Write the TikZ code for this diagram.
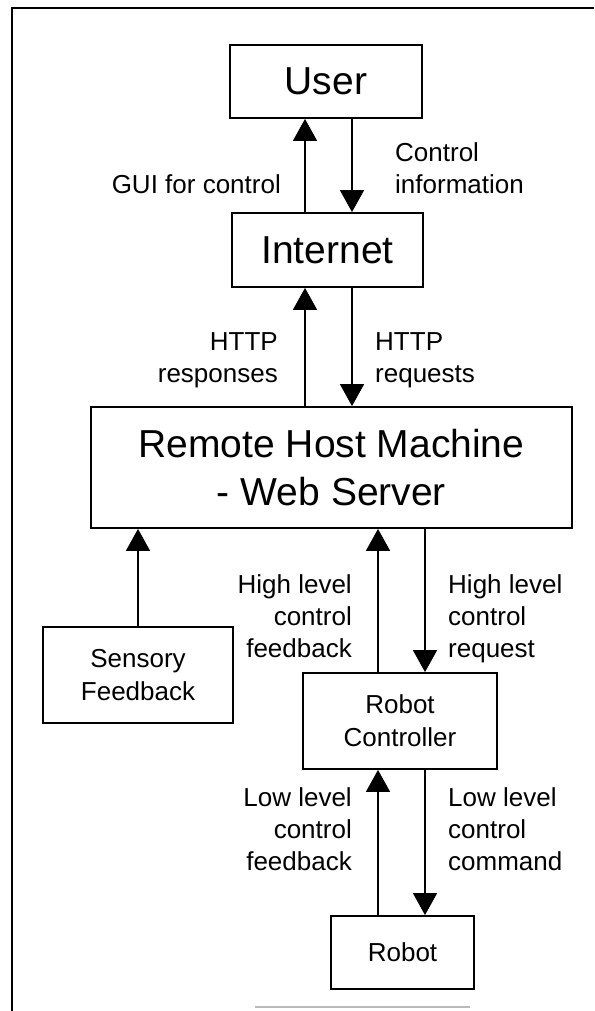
\documentclass[tikz,border=0pt]{standalone}
\usepackage{fontspec}
\setmainfont{Liberation Sans}
\usetikzlibrary{arrows.meta}
\begin{document}
\begin{tikzpicture}[x=1pt,y=-1pt,
  boxstyle/.style={draw, line width=1.8pt, inner sep=0pt, align=center},
  bigtext/.style={font=\fontsize{39}{48}\selectfont},
  smalltext/.style={font=\fontsize{26}{33}\selectfont},
  arr/.style={line width=1.5pt, -{Triangle[length=22pt,width=24pt]}},
  lbl/.style={inner sep=0pt, font=\fontsize{26}{32}\selectfont}
]
\useasboundingbox (0,0) rectangle (594,1011);
% frame
\draw[line width=2pt] (12,1011) -- (12,8) -- (594,8);
\draw[line width=1.2pt, gray!55] (255,1007) -- (470,1007);

% boxes
\node[boxstyle, bigtext, minimum width=192pt, minimum height=73pt] (user) at (326,81.5) {User};
\node[boxstyle, bigtext, minimum width=191pt, minimum height=74pt] (inet) at (327.5,250) {Internet};
\node[boxstyle, bigtext, minimum width=481pt, minimum height=121pt] (host) at (331.5,467.5) {Remote Host Machine\\- Web Server};
\node[boxstyle, smalltext, minimum width=190pt, minimum height=96pt] (sens) at (138,675) {Sensory\\Feedback};
\node[boxstyle, smalltext, minimum width=194pt, minimum height=96pt] (rc) at (400,721) {Robot\\Controller};
\node[boxstyle, smalltext, minimum width=143pt, minimum height=73pt] (robot) at (402.5,952.5) {Robot};

% connectors
\draw[arr] (inet.north -| 305,0) -- (user.south -| 305,0);
\draw[arr] (user.south -| 352,0) -- (inet.north -| 352,0);
\draw[arr] (host.north -| 305,0) -- (inet.south -| 305,0);
\draw[arr] (inet.south -| 352,0) -- (host.north -| 352,0);
\draw[arr] (sens.north) -- (sens.north |- host.south);
\draw[arr] (rc.north -| 378,0) -- (host.south -| 378,0);
\draw[arr] (host.south -| 425,0) -- (rc.north -| 425,0);
\draw[arr] (robot.north -| 378,0) -- (rc.south -| 378,0);
\draw[arr] (rc.south -| 425,0) -- (robot.north -| 425,0);

% labels
\node[lbl, anchor=north east, align=right] (l1) at (281,174) {GUI for control};
\node[lbl, anchor=north west, align=left] (l2) at (395,142) {Control\\information};
\node[lbl, anchor=north east, align=right] (l3) at (278,332) {HTTP\\responses};
\node[lbl, anchor=north west, align=left] (l4) at (375,332) {HTTP\\requests};
\node[lbl, anchor=north east, align=right] (l5) at (352,574) {High level\\control\\feedback};
\node[lbl, anchor=north west, align=left] (l6) at (448,574) {High level\\control\\request};
\node[lbl, anchor=north east, align=right] (l7) at (352,787) {Low level\\control\\feedback};
\node[lbl, anchor=north west, align=left] (l8) at (448,787) {Low level\\control\\command};
\end{tikzpicture}
\end{document}
